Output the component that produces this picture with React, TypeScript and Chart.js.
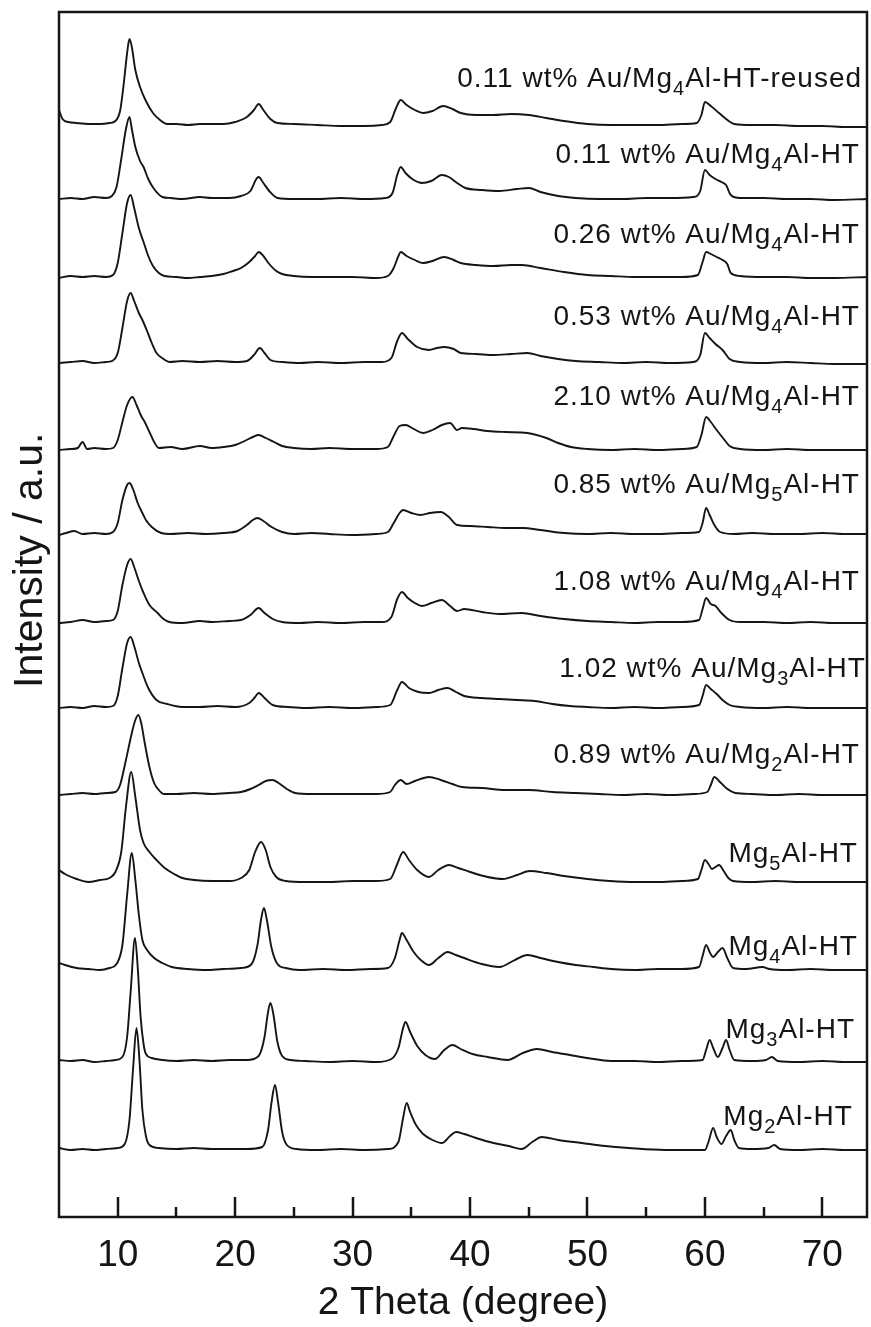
import React, { useEffect, useRef } from "react";
import { Chart, registerables } from "chart.js";
Chart.register(...registerables);

const xMajorTicks = [10, 20, 30, 40, 50, 60, 70];
const xMinorTicks = [15, 25, 35, 45, 55, 65];
const xTitle = "2 Theta (degree)";
const yTitle = "Intensity / a.u.";

const seriesNames = [
  "0.11 wt% Au/Mg_4Al-HT-reused",
  "0.11 wt% Au/Mg_4Al-HT",
  "0.26 wt% Au/Mg_4Al-HT",
  "0.53 wt% Au/Mg_4Al-HT",
  "2.10 wt% Au/Mg_4Al-HT",
  "0.85 wt% Au/Mg_5Al-HT",
  "1.08 wt% Au/Mg_4Al-HT",
  "1.02 wt% Au/Mg_3Al-HT",
  "0.89 wt% Au/Mg_2Al-HT",
  "Mg_5Al-HT",
  "Mg_4Al-HT",
  "Mg_3Al-HT",
  "Mg_2Al-HT",
];

// vertical stacking offsets (a.u.)
const offsets = [1092, 1018, 939, 854, 767, 682, 594, 509, 422, 335, 247, 155, 67];
// label placement: right end (2θ) and height above each trace's offset
const labelRight = [73.38, 73.2, 73.2, 73.2, 73.2, 73.2, 73.2, 73.7, 73.2, 73.03, 73.03, 72.78, 72.6];
const labelRise = [38, 36, 35, 38, 45, 42, 33, 31, 32, 20, 15, 24, 25];

type P = [number, number][];

const sReused: P = [[5,15],[5.3,6],[5.8,3],[6.5,2],[7.5,1],[8.5,1],[9.3,2],[9.8,4],[10.2,14],[10.5,40],[10.8,72],[11.0,86],[11.2,78],[11.5,55],[11.9,38],[12.4,24],[13,12],[13.6,5],[14.2,1],[15,1],[16,0],[17,1],[18,1],[19,1],[20,3],[21,8],[21.6,15],[22.0,21],[22.4,15],[23,6],[23.6,2],[25,1],[27,0],[29,-1],[31,-1],[32.5,0],[33.2,3],[33.7,17],[34.1,25],[34.6,20],[35.3,15],[36,12],[36.8,14],[37.7,19],[38.5,16],[39.2,12],[40.5,10],[42,10],[43.5,11],[45,10],[46.5,7],[48,4],[50,1],[52,0],[54,0],[56,0],[58,1],[59.3,2],[59.7,10],[60.0,23],[60.5,19],[61.2,12],[61.8,6],[62.5,1],[64,0],[66,0],[68,-1],[70,-1],[72,-2],[73.8,-2]];

const sAu011: P = [[5,0],[6,1],[7,0],[8,2],[9,1],[9.5,3],[9.9,12],[10.3,40],[10.7,70],[11.0,82],[11.2,70],[11.5,52],[11.9,38],[12.2,32],[12.6,20],[13.1,10],[13.8,2],[14.5,1],[15.5,0],[17,2],[18,1],[19.5,1],[20.5,3],[21.3,8],[21.8,20],[22.0,22],[22.4,16],[22.9,8],[23.6,1],[25,0],[27,0],[29,1],[31,0],[32.8,1],[33.4,6],[33.8,24],[34.1,32],[34.5,26],[35.2,19],[35.9,16],[36.7,18],[37.6,24],[38.2,22],[38.9,16],[39.6,11],[41,9],[42.5,8],[44,10],[45,11],[46,7],[47.5,3],[49,1],[51,0],[53,0],[55,1],[57,1],[59,2],[59.6,8],[60.0,29],[60.4,24],[60.9,20],[61.4,17],[61.8,14],[62.2,4],[63,1],[65,1],[67,0],[69,0],[71,-1],[73.8,0]];

const sAu026: P = [[5,0],[6,2],[7,1],[8,2],[9,1],[9.6,3],[10.0,15],[10.4,45],[10.8,75],[11.1,83],[11.4,70],[11.8,50],[12.2,36],[12.6,22],[13.0,12],[13.5,5],[14,2],[15,1],[16,0],[17,1],[18,2],[19,4],[19.8,7],[20.5,10],[21.2,16],[21.7,22],[22.0,26],[22.4,22],[22.9,14],[23.5,7],[24,4],[25,2],[26.5,1],[28,1],[30,1],[32,0],[33,2],[33.5,10],[33.9,22],[34.1,26],[34.6,22],[35.3,18],[36,15],[36.8,17],[37.8,21],[38.6,18],[39.2,15],[40.5,13],[42,12],[43.5,13],[44.4,13],[46,10],[48,6],[50,3],[52,2],[54,1],[56,1],[58,1],[59.4,3],[59.8,16],[60.1,26],[60.5,24],[61,21],[61.5,18],[61.9,14],[62.2,5],[63,2],[65,1],[67,1],[69,0],[71,0],[73.8,1]];

const sAu053: P = [[5,0],[6,1],[7,2],[8,0],[9,1],[9.5,2],[10.0,10],[10.4,35],[10.8,62],[11.1,70],[11.4,62],[11.8,50],[12.1,43],[12.5,32],[12.9,20],[13.3,10],[13.9,4],[14.4,1],[15.5,2],[17,1],[18.5,2],[20,1],[21,2],[21.6,8],[22.1,15],[22.5,10],[23,3],[24,1],[25.5,0],[27,1],[29,0],[31,1],[32.5,1],[33.3,5],[33.8,22],[34.2,30],[34.7,24],[35.5,16],[36.5,13],[37.2,15],[37.8,16],[38.6,14],[39.2,10],[40.5,9],[42,8],[43.5,9],[44.9,10],[46,7],[47.5,4],[49,2],[51,1],[53,0],[55,1],[57,0],[59,1],[59.6,8],[60.0,30],[60.4,25],[60.9,19],[61.5,13],[62.1,4],[63,1],[65,0],[67,1],[69,0],[71,-1],[73.8,-1]];

const sAu210: P = [[5,0],[6,1],[6.6,2],[7.0,8],[7.4,1],[8,2],[9,1],[9.6,2],[10.0,10],[10.4,28],[10.8,45],[11.25,53],[11.6,45],[12.0,34],[12.3,28],[12.7,18],[13.1,8],[13.5,2],[14.5,3],[15.5,1],[17,4],[18,2],[19,3],[20,5],[20.8,9],[21.5,13],[22.0,15],[22.6,12],[23.3,8],[24,4],[25,2],[26.5,1],[28,2],[30,1],[32,1],[33,3],[33.5,14],[34.0,24],[34.5,25],[35.2,21],[36.0,17],[36.8,20],[37.6,25],[38.3,27],[38.9,20],[39.3,22],[40.3,21],[41.5,19],[43,18],[44.9,17],[46.5,12],[47.5,7],[48.6,3],[50,1],[52,0],[54,1],[56,0],[58,1],[59.3,3],[59.7,15],[60.1,33],[60.5,28],[61,20],[61.6,11],[62.1,4],[63,1],[65,0],[67,1],[69,0],[71,0],[73.8,0]];

const sAu085Mg5: P = [[5,0],[5.6,2],[6.3,4],[7,1],[8,2],[9,1],[9.6,3],[10.0,12],[10.4,35],[10.8,50],[11.0,52],[11.3,46],[11.7,32],[12.1,22],[12.4,15],[12.9,8],[13.7,2],[14.5,1],[16,2],[17.5,1],[19,2],[20.2,4],[21,10],[21.5,15],[21.9,17],[22.4,14],[23.1,8],[24,3],[25,1],[26.5,2],[28,1],[30,0],[32,1],[33,3],[33.5,12],[34.0,22],[34.3,25],[35,22],[35.8,20],[36.6,22],[37.5,23],[38.2,18],[38.9,10],[40,9],[41.5,8],[43,7],[44.5,7],[46,5],[48,2],[50,1],[52,2],[54,1],[56,1],[58,2],[59.5,3],[59.8,12],[60.1,27],[60.4,20],[60.8,10],[61.3,3],[62.5,1],[64,2],[66,1],[68,1],[70,2],[72,1],[73.8,1]];

const sAu108: P = [[5,0],[6,1],[7,3],[8,1],[9,2],[9.6,3],[10.0,12],[10.4,38],[10.8,58],[11.1,64],[11.4,56],[11.8,42],[12.2,30],[12.7,18],[13.4,10],[13.9,4],[14.4,1],[15.5,0],[17,2],[18,1],[19.5,2],[20.5,3],[21.3,8],[22.0,15],[22.5,10],[23.2,4],[24,1],[25.5,0],[27,1],[29,0],[31,1],[32.5,1],[33.3,6],[33.8,24],[34.2,31],[34.7,25],[35.3,20],[35.9,17],[36.7,20],[37.6,23],[38.3,17],[38.9,12],[39.5,14],[41,11],[42.5,9],[44.4,10],[46,7],[48,4],[50,2],[52,1],[54,0],[56,1],[58,1],[59.5,3],[59.8,14],[60.1,25],[60.5,19],[60.9,17],[61.4,10],[62.1,3],[63,1],[65,1],[67,0],[69,1],[71,0],[73.8,0]];

const sAu102Mg3: P = [[5,0],[6,1],[7,0],[8,2],[9,1],[9.6,2],[10.0,12],[10.4,40],[10.8,65],[11.1,71],[11.4,62],[11.8,45],[12.1,35],[12.6,20],[13.3,8],[14.2,4],[15.5,1],[17,1],[18.5,2],[20,1],[21.2,5],[21.7,11],[22.0,15],[22.5,10],[23.2,3],[24.5,1],[26,0],[28,1],[30,0],[32,1],[33.2,3],[33.8,18],[34.2,26],[34.8,20],[35.6,16],[36.5,15],[37.3,18],[38.1,20],[38.8,16],[39.5,12],[41,10],[42.5,9],[44,8],[45.5,7],[47,4],[48.5,2],[50,1],[52,0],[54,1],[56,0],[58,1],[59.5,3],[59.8,12],[60.1,23],[60.5,19],[61,14],[61.5,8],[62.1,3],[63,1],[65,0],[67,1],[69,0],[71,0],[73.8,0]];

const sAu089Mg2: P = [[5,0],[6,1],[7,2],[8,1],[9,2],[9.8,3],[10.2,10],[10.7,35],[11.2,62],[11.5,75],[11.76,80],[12.0,72],[12.3,52],[12.7,28],[13.1,12],[13.5,5],[13.9,1],[15,1],[16.5,2],[18,1],[19.5,2],[20.5,3],[21.3,6],[22,10],[22.6,14],[23.17,15],[23.7,12],[24.4,6],[25.1,2],[26.5,1],[28,1],[30,1],[32,1],[33.2,3],[33.6,10],[34.1,15],[34.6,11],[35.3,14],[36.5,18],[37.5,15],[38.5,11],[39.3,8],[41,7],[43,5],[45,5],[47,3],[49,2],[51,1],[53,0],[55,1],[57,0],[59,1],[60.2,3],[60.5,10],[60.8,18],[61.2,14],[61.8,7],[62.6,2],[64,1],[66,0],[68,1],[70,0],[72,0],[73.8,0]];

const sMg5: P = [[5,12],[5.5,8],[6.5,3],[7.5,0],[8.5,2],[9.3,4],[9.8,10],[10.3,30],[10.7,75],[11.15,110],[11.5,85],[11.9,52],[12.2,39],[12.7,30],[13.3,22],[14,14],[14.8,8],[15.5,4],[16.5,2],[18,1],[19.5,1],[20.5,4],[21.2,12],[21.7,30],[22.2,40],[22.6,32],[23,15],[23.5,5],[24.3,1],[26,0],[28,0],[30,1],[32,1],[33.2,3],[33.8,18],[34.3,30],[34.8,22],[35.5,12],[36.5,5],[37.3,12],[38.2,17],[39,14],[40,10],[41.5,5],[42.8,3],[44,7],[45.1,11],[46.5,9],[48,6],[50,3],[51.9,1],[54,0],[56,0],[58,1],[59.4,3],[59.7,12],[60.0,22],[60.3,18],[60.6,13],[60.9,15],[61.2,17],[61.6,11],[62,4],[62.4,1],[64,0],[66,1],[68,0],[70,0],[72,0],[73.8,0]];

const sMg4: P = [[5,7],[5.5,5],[6.5,2],[7.5,1],[8.5,0],[9.3,2],[9.9,6],[10.4,25],[10.8,75],[11.2,117],[11.5,90],[11.8,55],[12.1,30],[12.5,20],[13.1,12],[13.8,7],[14.6,3],[16,1],[17.5,0],[19,1],[20.5,2],[21.4,6],[21.9,25],[22.2,50],[22.45,62],[22.7,50],[23.1,22],[23.6,6],[24.3,2],[25.5,0],[27.5,1],[29.5,0],[31.5,1],[33,2],[33.6,12],[34.0,30],[34.2,37],[34.6,30],[35.2,18],[35.8,10],[36.5,5],[37.3,12],[38.1,18],[38.8,15],[39.5,12],[41,6],[42.5,3],[43.8,10],[44.9,15],[46,12],[47.5,8],[49,5],[50.5,3],[52,1],[54,0],[56,1],[58,1],[59.5,3],[59.8,14],[60.1,25],[60.4,18],[60.7,13],[61.1,18],[61.5,22],[61.9,12],[62.4,2],[63.5,1],[64.9,3],[65.5,1],[67,0],[69,1],[71,0],[73.8,0]];

const sMg3: P = [[5,2],[6,1],[7,2],[8,0],[9,1],[9.8,2],[10.4,5],[10.8,25],[11.1,70],[11.47,124],[11.7,95],[11.95,45],[12.2,18],[12.4,8],[12.9,4],[13.8,2],[15,1],[16.5,2],[18,1],[19.5,2],[21,2],[22,6],[22.5,25],[22.8,50],[23.0,59],[23.25,48],[23.6,20],[24.0,6],[24.7,2],[26,1],[28,0],[30,1],[32,0],[33.3,3],[33.9,14],[34.3,34],[34.5,40],[34.9,30],[35.5,16],[36.2,7],[37.0,3],[37.8,12],[38.5,17],[39.2,13],[40.2,8],[41.5,5],[43.2,2],[44.5,9],[45.7,13],[47,10],[48.5,7],[50,4],[52,1],[54,1],[56,0],[58,1],[59.8,2],[60.1,12],[60.4,22],[60.7,14],[61.1,5],[61.5,14],[61.8,22],[62.1,12],[62.5,2],[64,1],[65.2,2],[65.7,5],[66.2,1],[68,0],[70,1],[72,0],[73.8,0]];

const sMg2: P = [[5,2],[6,0],[7,1],[8,0],[9,1],[10,2],[10.6,6],[11.0,30],[11.3,80],[11.6,122],[11.85,90],[12.1,40],[12.4,14],[12.7,5],[13.5,2],[15,1],[16.5,2],[18,1],[19.5,1],[21,1],[22.3,3],[22.8,20],[23.1,48],[23.39,65],[23.65,48],[24.0,18],[24.4,5],[25.2,1],[27,0],[29,1],[31,0],[33,1],[33.9,8],[34.3,32],[34.6,47],[34.9,38],[35.4,25],[36,16],[36.8,10],[37.6,7],[38.3,14],[38.8,18],[39.5,16],[40.5,12],[42,7],[43.3,4],[44.4,1],[45.3,8],[46.1,13],[47.5,10],[49.5,7],[51.5,4],[53.5,2],[56.6,0],[58,0],[60,0],[60.3,8],[60.7,22],[61.0,13],[61.4,6],[61.8,14],[62.2,20],[62.5,10],[62.9,2],[64,1],[65.4,2],[65.9,5],[66.4,1],[68,0],[70,1],[72,0],[73.8,0]];

const seriesData: P[] = [sReused, sAu011, sAu026, sAu053, sAu210, sAu085Mg5, sAu108, sAu102Mg3, sAu089Mg2, sMg5, sMg4, sMg3, sMg2];

const FONT = "'Liberation Sans', Arial, Helvetica, sans-serif";
const INK = "#151515";

function parseLabel(s: string) {
  const parts: { t: string; sub: boolean }[] = [];
  const re = /_(\d)/g;
  let last = 0;
  let m: RegExpExecArray | null;
  while ((m = re.exec(s))) {
    if (m.index > last) parts.push({ t: s.slice(last, m.index), sub: false });
    parts.push({ t: m[1], sub: true });
    last = m.index + m[0].length;
  }
  if (last < s.length) parts.push({ t: s.slice(last), sub: false });
  return parts;
}

const decorPlugin = {
  id: "decor",
  afterDatasetsDraw(chart: any) {
    const ctx = chart.ctx as CanvasRenderingContext2D;
    const { left, right, top, bottom } = chart.chartArea;
    const xs = chart.scales.x;
    const ys = chart.scales.y;
    ctx.save();
    // frame
    ctx.strokeStyle = INK;
    ctx.lineWidth = 2.5;
    ctx.strokeRect(left, top, right - left, bottom - top);
    // inward ticks
    ctx.beginPath();
    for (const v of xMajorTicks) {
      const px = Math.round(xs.getPixelForValue(v));
      ctx.moveTo(px, bottom);
      ctx.lineTo(px, bottom - 20);
    }
    for (const v of xMinorTicks) {
      const px = Math.round(xs.getPixelForValue(v));
      ctx.moveTo(px, bottom);
      ctx.lineTo(px, bottom - 10);
    }
    ctx.stroke();

    // series labels
    ctx.fillStyle = INK;
    ctx.textBaseline = "alphabetic";
    ctx.textAlign = "left";
    const mainFont = `28px ${FONT}`;
    const subFont = `20px ${FONT}`;
    (ctx as any).letterSpacing = "1px";
    seriesNames.forEach((name, i) => {
      const parts = parseLabel(name);
      let w = 0;
      for (const p of parts) {
        ctx.font = p.sub ? subFont : mainFont;
        w += ctx.measureText(p.t).width;
      }
      let x = xs.getPixelForValue(labelRight[i]) - w;
      const y = ys.getPixelForValue(offsets[i] + labelRise[i]);
      for (const p of parts) {
        ctx.font = p.sub ? subFont : mainFont;
        ctx.fillText(p.t, x, p.sub ? y + 8 : y);
        x += ctx.measureText(p.t).width;
      }
    });
    (ctx as any).letterSpacing = "0px";

    // y-axis title
    ctx.font = `41px ${FONT}`;
    ctx.textAlign = "center";
    ctx.textBaseline = "middle";
    ctx.translate(31, top + (bottom - top) * 0.455);
    ctx.rotate(-Math.PI / 2);
    ctx.fillText(yTitle, 0, 0);
    ctx.restore();
  },
};

export default function App() {
  const ref = useRef<HTMLCanvasElement | null>(null);
  useEffect(() => {
    if (!ref.current) return;
    const datasets = seriesData.map((s, i) => ({
      label: seriesNames[i],
      data: s.map(([x, h]) => ({ x, y: h + offsets[i] })),
      borderColor: INK,
      borderWidth: 1.9,
      pointRadius: 0,
      cubicInterpolationMode: "monotone" as const,
      fill: false,
    }));
    const chart = new Chart(ref.current, {
      type: "line",
      data: { datasets },
      options: {
        animation: false,
        responsive: false,
        devicePixelRatio: 1,
        layout: { padding: { top: 12, right: 4, left: 0, bottom: 0 } },
        plugins: { legend: { display: false }, tooltip: { enabled: false } },
        scales: {
          x: {
            type: "linear",
            min: 5,
            max: 73.8,
            afterBuildTicks: (scale: any) => {
              scale.ticks = xMajorTicks.map((v) => ({ value: v }));
            },
            afterFit: (scale: any) => {
              scale.height = 110;
            },
            grid: { display: false, drawTicks: false },
            border: { display: false },
            ticks: {
              color: INK,
              font: { family: FONT, size: 37 },
              padding: 17,
              maxRotation: 0,
              autoSkip: false,
            },
            title: {
              display: true,
              text: xTitle,
              color: INK,
              font: { family: FONT, size: 39 },
              padding: { top: 0, bottom: 0 },
            },
          },
          y: {
            type: "linear",
            min: 0,
            max: 1205,
            afterFit: (scale: any) => {
              scale.width = 59;
            },
            grid: { display: false, drawTicks: false },
            border: { display: false },
            ticks: { display: false },
          },
        },
      },
      plugins: [decorPlugin],
    });
    return () => chart.destroy();
  }, []);
  return (
    <div style={{ position: "absolute", left: 0, top: 0, width: 871, height: 1327, background: "#fff" }}>
      <canvas ref={ref} width={871} height={1327} style={{ display: "block" }} />
    </div>
  );
}
